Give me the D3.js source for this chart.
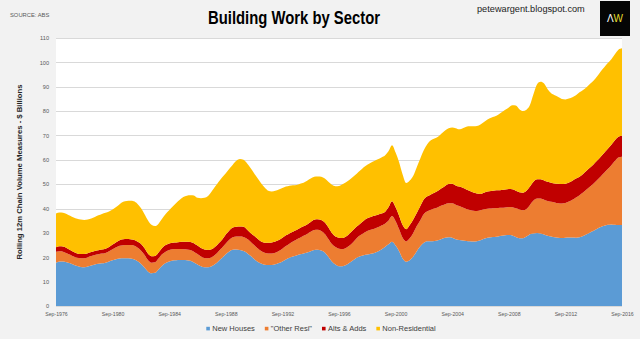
<!DOCTYPE html>
<html>
<head>
<meta charset="utf-8">
<script src="https://cdn.jsdelivr.net/npm/d3@7"></script>
<style>
  html, body { margin: 0; padding: 0; background: #f2f2f2; }
  svg { display: block; font-family: Arial, "Liberation Sans", sans-serif; }
</style>
</head>
<body>
<svg id="chart" width="640" height="339"></svg>
<script>
// Rolling 12-month chain volume measures, $ billions, quarterly from Sep-1976 to Sep-2016
const newHouses = [
  17.8, 18.3, 18.3, 18.0,  17.5, 16.9, 16.4, 16.0,  15.9, 16.2, 16.6, 17.0,  17.3, 17.5, 17.8, 18.3,
  18.8, 19.2, 19.5, 19.6,  19.6, 19.5, 19.2, 18.5,  17.3, 15.8, 14.2, 13.4,  13.6, 15.0, 16.5, 17.6,
  18.3, 18.7, 18.8, 18.9,  18.9, 18.8, 18.6, 17.9,  17.0, 16.3, 15.9, 15.9,  16.3, 17.2, 18.5, 19.8,
  21.2, 22.4, 23.1, 23.2,  23.0, 22.6, 21.8, 20.6,  19.3, 18.2, 17.4, 16.9,  16.8, 16.8, 17.1, 17.6,
  18.3, 19.1, 19.8, 20.3,  20.7, 21.2, 21.6, 22.0,  22.5, 23.0, 23.1, 22.8,  22.0, 20.2, 18.3, 17.0,
  16.3, 16.3, 16.8, 17.8,  18.8, 19.8, 20.4, 20.8,  21.1, 21.4, 21.8, 22.4,  23.2, 24.2, 25.3, 26.4,
  24.8, 22.5, 19.5, 18.2,  18.8, 20.3, 22.5, 24.5,  26.0, 26.6, 26.6, 26.7,  27.0, 27.5, 28.0, 28.2,
  28.0, 27.4, 27.1, 26.9,  26.7, 26.6, 26.5, 26.6,  27.0, 27.6, 28.0, 28.2,  28.3, 28.5, 28.8, 29.0,
  29.1, 28.9, 28.3, 27.8,  27.8, 28.5, 29.5, 29.8,  30.0, 29.8, 29.3, 28.8,  28.5, 28.2, 28.0, 27.9,
  28.0, 28.1, 28.1, 28.0,  28.2, 28.7, 29.4, 30.2,  30.9, 31.7, 32.4, 32.9,  33.3, 33.5, 33.3, 33.2,
  33.2
];
const otherResi = [
  4.5, 4.2, 4.0, 3.7,  3.5, 3.4, 3.4, 3.6,  3.7, 3.8, 3.9, 3.9,  3.9, 4.0, 4.0, 4.2,
  4.5, 4.9, 5.2, 5.3,  5.4, 5.5, 5.6, 5.5,  5.5, 5.2, 4.7, 4.4,  4.4, 4.5, 4.7, 4.7,
  4.7, 4.6, 4.6, 4.5,  4.4, 4.4, 4.4, 4.4,  4.3, 4.0, 3.8, 3.7,  3.7, 3.8, 4.0, 4.2,
  4.5, 4.8, 5.1, 5.3,  5.5, 5.7, 5.8, 5.8,  5.7, 5.5, 5.2, 5.0,  4.8, 4.8, 4.8, 5.0,
  5.2, 5.5, 5.8, 6.2,  6.6, 6.8, 7.2, 7.6,  8.0, 8.2, 8.2, 8.0,  7.6, 7.3, 7.1, 7.2,
  7.2, 7.0, 7.0, 7.0,  7.4, 8.0, 8.6, 9.2,  9.7, 9.9, 9.9, 9.9,  9.8, 9.6, 9.7, 10.5,
  10.0, 9.0, 8.5, 8.3,  9.0, 9.7, 10.3, 10.7,  11.8, 12.3, 12.9, 13.3,  13.5, 13.7, 13.8, 14.0,
  14.2, 14.2, 13.9, 13.5,  13.1, 12.8, 12.6, 12.4,  12.3, 12.1, 11.9, 11.8,  11.8, 11.7, 11.5, 11.4,
  11.5, 11.6, 11.8, 11.8,  11.5, 11.3, 12.0, 13.5,  14.1, 14.3, 14.3, 14.3,  14.3, 14.3, 14.2, 14.2,
  14.3, 14.8, 15.5, 16.5,  17.3, 17.9, 18.4, 18.8,  19.4, 20.0, 20.8, 21.8,  22.9, 24.3, 26.2, 27.8,
  28.1
];
const altsAdds = [
  1.8, 2.0, 2.1, 2.1,  2.0, 1.9, 1.8, 1.7,  1.7, 1.7, 1.7, 1.7,  1.7, 1.7, 1.7, 1.7,
  1.9, 2.1, 2.3, 2.5,  2.5, 2.4, 2.4, 2.5,  2.7, 2.8, 2.7, 2.6,  2.5, 2.5, 2.6, 2.7,
  2.7, 2.7, 2.7, 2.9,  3.1, 3.2, 3.3, 3.5,  3.5, 3.5, 3.5, 3.4,  3.3, 3.3, 3.3, 3.3,
  3.6, 3.8, 4.0, 4.0,  4.1, 4.2, 3.8, 3.6,  3.8, 3.9, 3.9, 4.1,  4.4, 4.5, 4.6, 4.5,
  4.5, 4.4, 4.2, 4.0,  3.9, 4.0, 3.9, 3.9,  4.0, 4.2, 4.3, 4.5,  4.7, 4.8, 4.6, 4.3,
  4.5, 4.6, 4.7, 5.0,  5.0, 4.8, 4.8, 5.0,  5.2, 5.2, 5.3, 5.2,  5.0, 4.8, 5.5, 6.1,
  5.7, 5.5, 5.2, 5.0,  5.4, 5.5, 5.4, 5.8,  6.0, 6.1, 6.3, 6.5,  6.8, 7.1, 7.5, 7.9,
  8.0, 7.9, 8.0, 8.1,  8.0, 7.8, 7.5, 7.2,  6.7, 6.8, 7.1, 7.2,  7.3, 7.3, 7.3, 7.4,
  7.4, 7.4, 7.2, 7.1,  7.2, 7.5, 7.5, 7.7,  7.9, 7.9, 7.9, 7.9,  7.8, 7.8, 8.0, 8.0,
  7.9, 7.8, 7.8, 7.8,  7.6, 7.6, 7.7, 7.8,  7.9, 8.0, 8.1, 8.2,  8.3, 8.4, 8.5, 8.5,
  8.6
];
const nonResidential = [
  13.9, 13.9, 13.9, 14.0,  14.0, 14.1, 14.2, 14.2,  14.0, 13.8, 13.7, 13.9,  14.3, 14.6, 14.8, 14.6,
  14.4, 14.4, 14.8, 15.4,  15.6, 15.8, 15.8, 15.5,  14.7, 14.0, 13.6, 12.9,  12.3, 11.8, 12.0, 12.8,
  13.6, 14.8, 16.2, 17.3,  18.3, 18.9, 19.2, 19.6,  19.6, 20.4, 21.2, 22.2,  23.7, 24.7, 25.2, 25.5,
  25.2, 25.3, 25.8, 27.1,  27.7, 27.5, 27.2, 26.6,  25.7, 24.8, 23.9, 22.6,  21.3, 20.9, 20.8, 20.7,
  20.4, 20.0, 19.6, 19.1,  18.5, 18.2, 17.9, 17.9,  17.8, 17.6, 17.6, 17.7,  18.0, 18.7, 19.8, 20.7,
  21.3, 22.1, 22.3, 22.0,  21.8, 21.7, 21.8, 22.0,  22.0, 22.3, 22.5, 22.7,  23.0, 23.2, 23.0, 23.0,
  22.5, 22.0, 20.8, 19.0,  18.3, 18.0, 18.8, 19.5,  20.2, 21.5, 22.2, 22.3,  22.2, 22.5, 22.7, 22.9,
  23.1, 23.5, 23.5, 24.5,  25.8, 26.6, 27.2, 27.7,  28.5, 29.0, 29.6, 30.1,  30.4, 31.0, 31.9, 32.7,
  33.5, 34.5, 35.0, 34.1,  33.5, 33.3, 33.5, 36.0,  39.0, 40.0, 39.8, 38.0,  36.7, 36.2, 35.6, 34.9,
  34.6, 34.5, 34.3, 34.2,  34.6, 34.5, 34.3, 34.4,  34.4, 34.6, 35.0, 35.1,  35.2, 35.1, 35.3, 35.7,
  35.9
];

const seriesNames = ["New Houses", "\"Other Resi\"", "Alts & Adds", "Non-Residential"];
const seriesColors = ["#5b9bd5", "#ed7d31", "#c00000", "#ffc000"];
const yTicks = [0, 10, 20, 30, 40, 50, 60, 70, 80, 90, 100, 110];
const xTickLabels = ["Sep-1976", "Sep-1980", "Sep-1984", "Sep-1988", "Sep-1992", "Sep-1996",
                     "Sep-2000", "Sep-2004", "Sep-2008", "Sep-2012", "Sep-2016"];

// Quarter-end dates, one per value
const firstQuarter = d3.timeParse("%b-%Y")("Sep-1976");
const categories = newHouses.map((_, i) => d3.timeMonth.offset(firstQuarter, 3 * i));

const rows = categories.map((date, i) => ({
  date,
  nh: newHouses[i], or: otherResi[i], aa: altsAdds[i], nr: nonResidential[i]
}));
const keys = ["nh", "or", "aa", "nr"];

const svg = d3.select("#chart");
const plot = { left: 56, right: 622, top: 38, bottom: 306 };

const x = d3.scaleTime()
  .domain(d3.extent(categories))
  .range([plot.left, plot.right]);
const y = d3.scaleLinear()
  .domain([0, 110])
  .range([plot.bottom, plot.top]);

// Plot background
svg.append("rect")
  .attr("x", plot.left).attr("y", plot.top)
  .attr("width", plot.right - plot.left).attr("height", plot.bottom - plot.top)
  .attr("fill", "#ffffff");

// Horizontal gridlines
svg.append("g")
  .selectAll("line")
  .data(yTicks)
  .join("line")
  .attr("x1", plot.left).attr("x2", plot.right)
  .attr("y1", d => Math.round(y(d)) + 0.5).attr("y2", d => Math.round(y(d)) + 0.5)
  .attr("stroke", "#d9d9d9").attr("stroke-width", 1);

// Stacked areas
const stacked = d3.stack().keys(keys)(rows);
const area = d3.area()
  .x(d => x(d.data.date))
  .y0(d => y(d[0]))
  .y1(d => y(d[1]))
  .curve(d3.curveMonotoneX);

svg.append("g")
  .selectAll("path")
  .data(stacked)
  .join("path")
  .attr("d", area)
  .attr("fill", (d, i) => seriesColors[i]);

// Y axis labels
const yAxis = d3.axisLeft(y).tickValues(yTicks).tickSize(0).tickPadding(7);
svg.append("g")
  .attr("transform", `translate(${plot.left},0)`)
  .call(yAxis)
  .call(g => g.select(".domain").remove())
  .call(g => g.selectAll("text")
    .attr("fill", "#595959")
    .style("font-size", "5.6px"));

// X axis labels
const parseLabel = d3.timeParse("%b-%Y");
const xAxis = d3.axisBottom(x)
  .tickValues(xTickLabels.map(parseLabel))
  .tickFormat(d3.timeFormat("%b-%Y"))
  .tickSize(0).tickPadding(6);
svg.append("g")
  .attr("transform", `translate(0,${plot.bottom})`)
  .call(xAxis)
  .call(g => g.select(".domain").remove())
  .call(g => g.selectAll("text")
    .attr("fill", "#595959")
    .style("font-size", "5.2px"));

// Y axis title
svg.append("text")
  .attr("transform", `translate(21.5,${(plot.top + plot.bottom) / 2}) rotate(-90)`)
  .attr("text-anchor", "middle")
  .attr("fill", "#262626")
  .style("font-size", "7.7px")
  .style("font-weight", "bold")
  .text("Rolling 12m Chain Volume Measures - $ Billions");

// Title
svg.append("text")
  .attr("x", 294).attr("y", 23.5)
  .attr("text-anchor", "middle")
  .attr("fill", "#000")
  .attr("textLength", 172)
  .attr("lengthAdjust", "spacingAndGlyphs")
  .style("font-family", "\"Liberation Sans Narrow\", \"Arial Narrow\", Arial, sans-serif")
  .style("font-size", "17.5px")
  .style("font-weight", "bold")
  .text("Building Work by Sector");

// Source note
svg.append("text")
  .attr("x", 10).attr("y", 17)
  .attr("fill", "#595959")
  .style("font-size", "5.8px")
  .text("SOURCE: ABS");

// Blog address
svg.append("text")
  .attr("x", 477).attr("y", 11.5)
  .attr("fill", "#222")
  .style("font-size", "9.2px")
  .text("petewargent.blogspot.com");

// Logo badge
const logo = svg.append("g");
logo.append("rect")
  .attr("x", 600).attr("y", 1).attr("width", 30).attr("height", 35)
  .attr("fill", "#050505");
const logoText = logo.append("text")
  .attr("x", 615).attr("y", 22)
  .attr("text-anchor", "middle")
  .style("font-size", "10px");
logoText.append("tspan").attr("fill", "#ffffff").text("Λ");
logoText.append("tspan").attr("fill", "#e5dc2a").text("W");

// Legend
const legend = svg.append("g").style("font-size", "7.5px");
const items = legend.selectAll("g")
  .data(seriesNames)
  .join("g");
items.append("rect")
  .attr("y", -3.2).attr("width", 3.6).attr("height", 3.6)
  .attr("fill", (d, i) => seriesColors[i]);
items.append("text")
  .attr("x", 6).attr("y", 0.5)
  .attr("fill", "#404040")
  .text(d => d);
let cursor = 0;
items.each(function () {
  const g = d3.select(this);
  g.attr("transform", `translate(${cursor},0)`);
  cursor += 6 + g.select("text").node().getComputedTextLength() + 10;
});
const legendWidth = cursor - 10;
legend.attr("transform", `translate(${321 - legendWidth / 2},330)`);
</script>
</body>
</html>
